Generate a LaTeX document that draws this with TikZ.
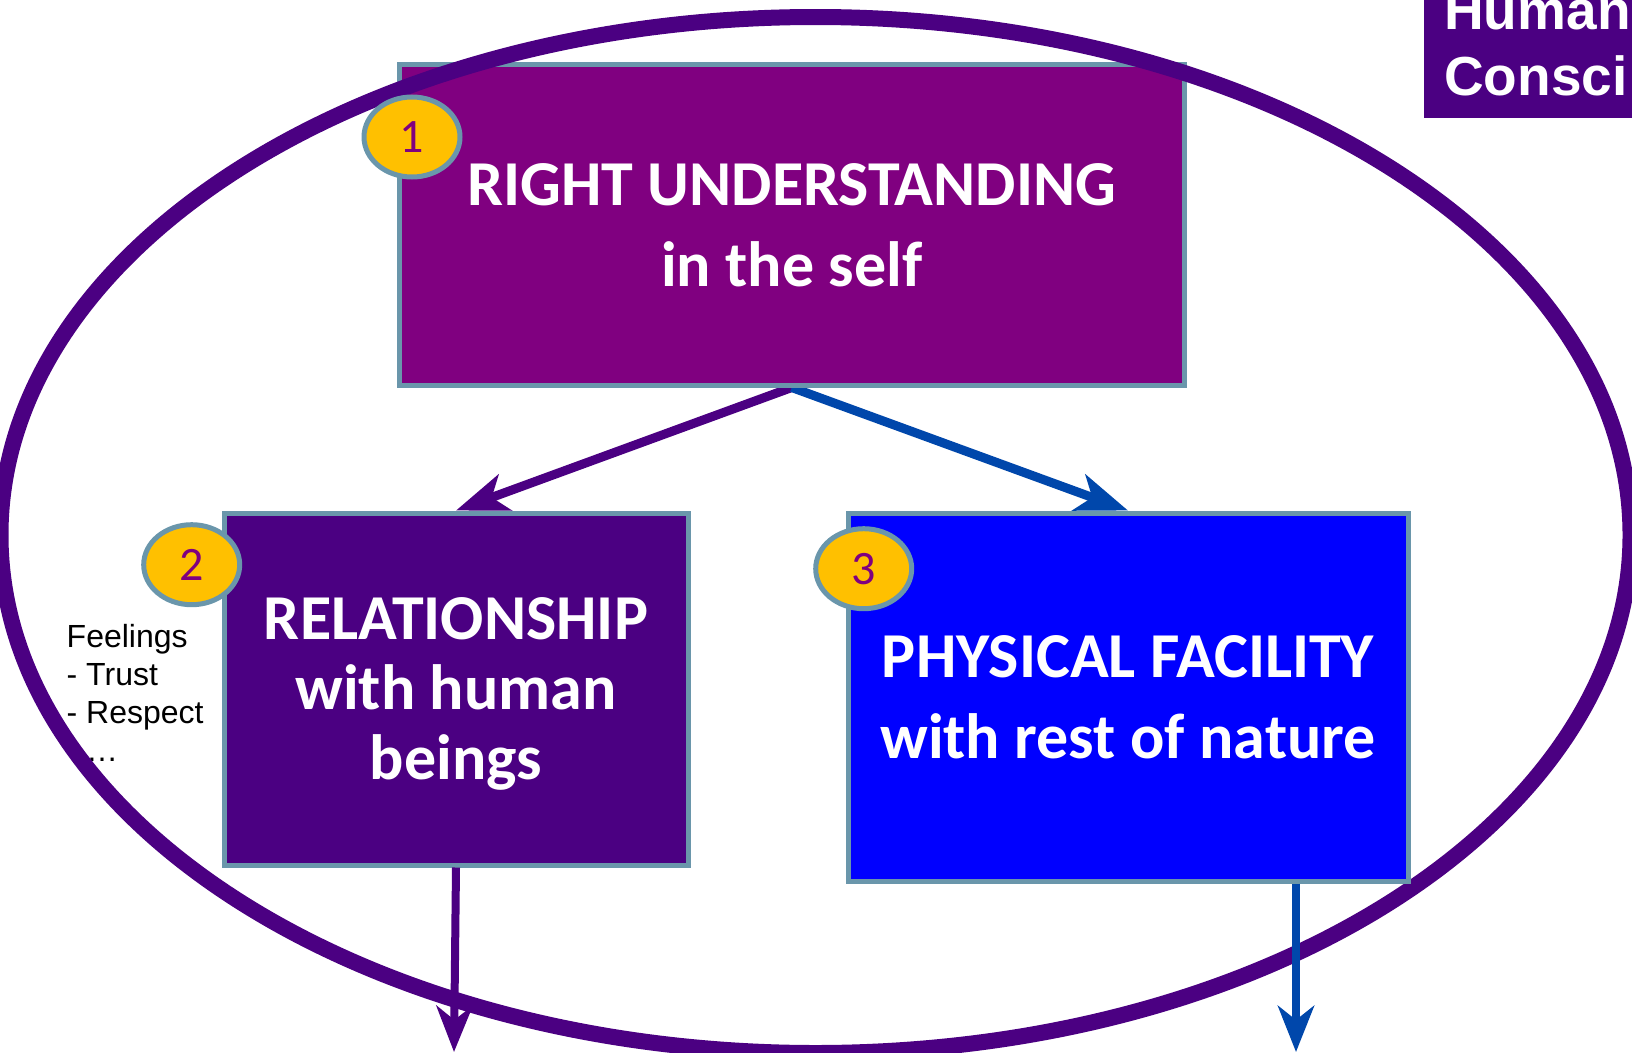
\documentclass[tikz,border=0pt]{standalone}
\usepackage{fontspec}
\setmainfont{Carlito}
\newfontfamily\arialf{Liberation Sans}
\usetikzlibrary{arrows.meta,shapes.geometric}
\definecolor{indigoc}{HTML}{4B0082}
\definecolor{purplec}{HTML}{800080}
\definecolor{bluec}{HTML}{0000FF}
\definecolor{cobaltc}{HTML}{0047AB}
\definecolor{edgec}{HTML}{6A96AB}
\definecolor{goldc}{HTML}{FFC000}
\pgfdeclarelayer{bottom}
\pgfdeclarelayer{back}
\pgfsetlayers{bottom,back,main}
\begin{document}
\begin{tikzpicture}[x=1pt,y=-1pt,
  boxnode/.style={draw=edgec, line width=5pt, rectangle, inner sep=0pt, text=white,
    align=center, text depth=0pt, font=\bfseries\fontsize{64}{81}\selectfont},
  badge/.style={ellipse, draw=edgec, line width=5pt, fill=goldc, minimum width=96pt,
    minimum height=80pt, inner sep=0pt, text=purplec, font=\fontsize{48}{58}\selectfont},
  toparr/.style={line width=9pt, -{Stealth[length=52pt,width=38pt,inset=14pt]}},
  downarr/.style={line width=8pt, -{Stealth[length=46pt,width=36pt,inset=14pt]}},
]
\useasboundingbox (0,0) rectangle (1632,1052);
\begin{pgfonlayer}{bottom}
\fill[white] (0,0) rectangle (1632,1052);
\end{pgfonlayer}

% top box
\node[boxnode, fill=purplec, minimum width=784.5pt, minimum height=320.5pt] (b1)
  at (791.75,224.75) {RIGHT UNDERSTANDING\\in the self};

% side text
\node[anchor=north west, inner sep=0pt, align=left,
  font=\arialf\fontsize{32}{38}\selectfont] (feel) at (66.5,624.5)
  {Feelings\\- Trust\\- Respect\\- …};

% big ring
\node[ellipse, draw=indigoc, line width=16pt, minimum width=1630pt, minimum height=1036pt,
  inner sep=0pt] (ring) at (815.5,535) {};

% lower boxes
\node[boxnode, fill=indigoc, minimum width=464pt, minimum height=352pt,
  font=\bfseries\fontsize{64}{70}\selectfont] (b2)
  at (456,689) {RELATIONSHIP\\with human\\beings};
\node[boxnode, fill=bluec, minimum width=560pt, minimum height=368pt] (b3)
  at (1128,697) {PHYSICAL FACILITY\\with rest of nature};

% badges
\node[badge] (n1) at (412,137) {1};
\node[badge] (n2) at (191.7,564.7) {2};
\node[badge] (n3) at (863.7,568.7) {3};

% arrows from the top box (under the lower boxes)
\begin{pgfonlayer}{back}
\draw[toparr, indigoc] (b1.south) -- (b2.north);
\draw[toparr, cobaltc] (b1.south) -- (b3.north);
\end{pgfonlayer}

% arrows leaving the ring
\coordinate (e2) at (454,1052);
\coordinate (e3) at (1296,1052);
\draw[downarr, indigoc] (b2.south) -- (e2);
\draw[downarr, cobaltc] (b3.south -| e3) -- (e3);

% corner label
\node[fill=indigoc, anchor=north west, minimum width=260pt, minimum height=148pt,
  inner sep=0pt] (hcbox) at (1424,-30) {};
\node[anchor=south west, inner sep=0pt, text depth=0pt, align=left, text=white,
  font=\arialf\bfseries\fontsize{55}{66}\selectfont] (hc) at (1444,96) {Human\\Consci};
\end{tikzpicture}
\end{document}
